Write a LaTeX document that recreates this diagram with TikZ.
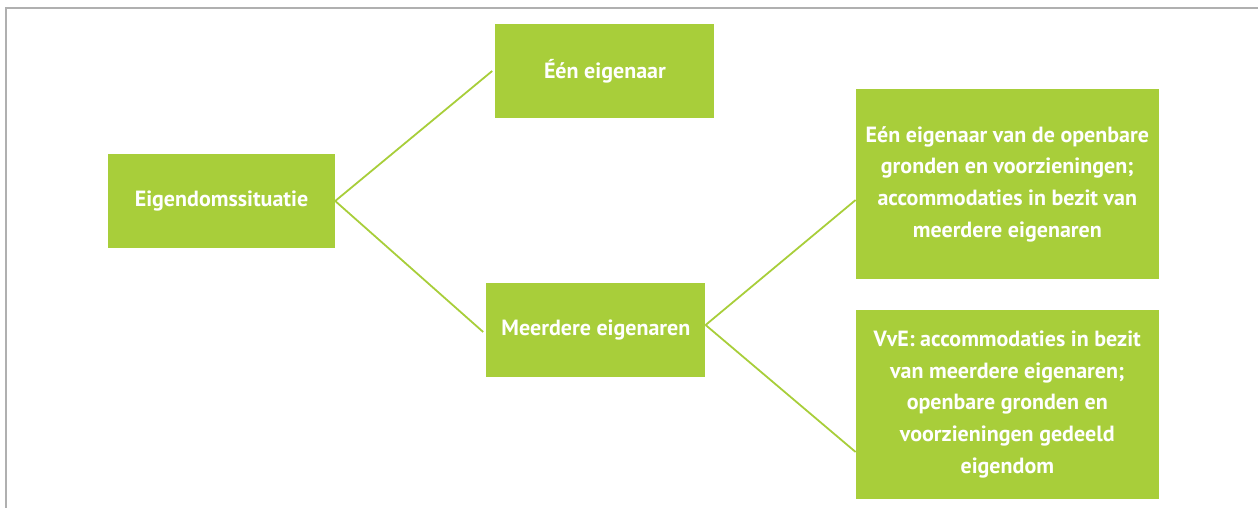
\documentclass[tikz,border=0pt]{standalone}
\usepackage{fontspec}
\setmainfont{PT Sans}
\usepackage{xcolor}
\usetikzlibrary{positioning}
\definecolor{lime}{RGB}{168,206,58}
\definecolor{framegray}{RGB}{176,176,176}

\begin{document}
\begin{tikzpicture}[x=1pt, y=-1pt, every node/.style={rectangle, fill=lime, text=white, align=center, font=\fontsize{22}{31.7}\selectfont\bfseries, inner sep=0pt}, link/.style={draw=lime, line width=1.8pt}]
        \useasboundingbox (0,0) rectangle (1258,508);
        \draw[framegray, line width=2pt] (6,508) -- (6,8.5) -- (1258,8.5);
        \node[minimum width=227pt, minimum height=94pt] (situatie) at (221.5,201) {Eigendomssituatie};
        \node[minimum width=219pt, minimum height=94pt, right=160pt of situatie, yshift=130pt] (een) {Één eigenaar};
        \node[minimum width=219pt, minimum height=94pt, right=151pt of situatie, yshift=-129pt] (meerdere) {Meerdere eigenaren};
        \node[minimum width=303pt, minimum height=190pt, right=150pt of meerdere, yshift=146pt] (openbaar) {Eén eigenaar van de openbare\\gronden en voorzieningen;\\accommodaties in bezit van\\meerdere eigenaren};
        \node[minimum width=303pt, minimum height=189pt, right=150pt of meerdere, yshift=-74.5pt] (vve) {VvE: accommodaties in bezit\\van meerdere eigenaren;\\openbare gronden en\\voorzieningen gedeeld\\eigendom};
        % Lines
        \draw[link] (situatie.east) -- ([xshift=-3pt]een.west);
        \draw[link] (situatie.east) -- ([xshift=-3pt, yshift=-2pt]meerdere.west);
        \draw[link] ([yshift=5pt]meerdere.east) -- ([yshift=-16pt]openbaar.west);
        \draw[link] ([yshift=5pt]meerdere.east) -- ([yshift=-47.5pt]vve.west);
    \end{tikzpicture}
\end{document}
